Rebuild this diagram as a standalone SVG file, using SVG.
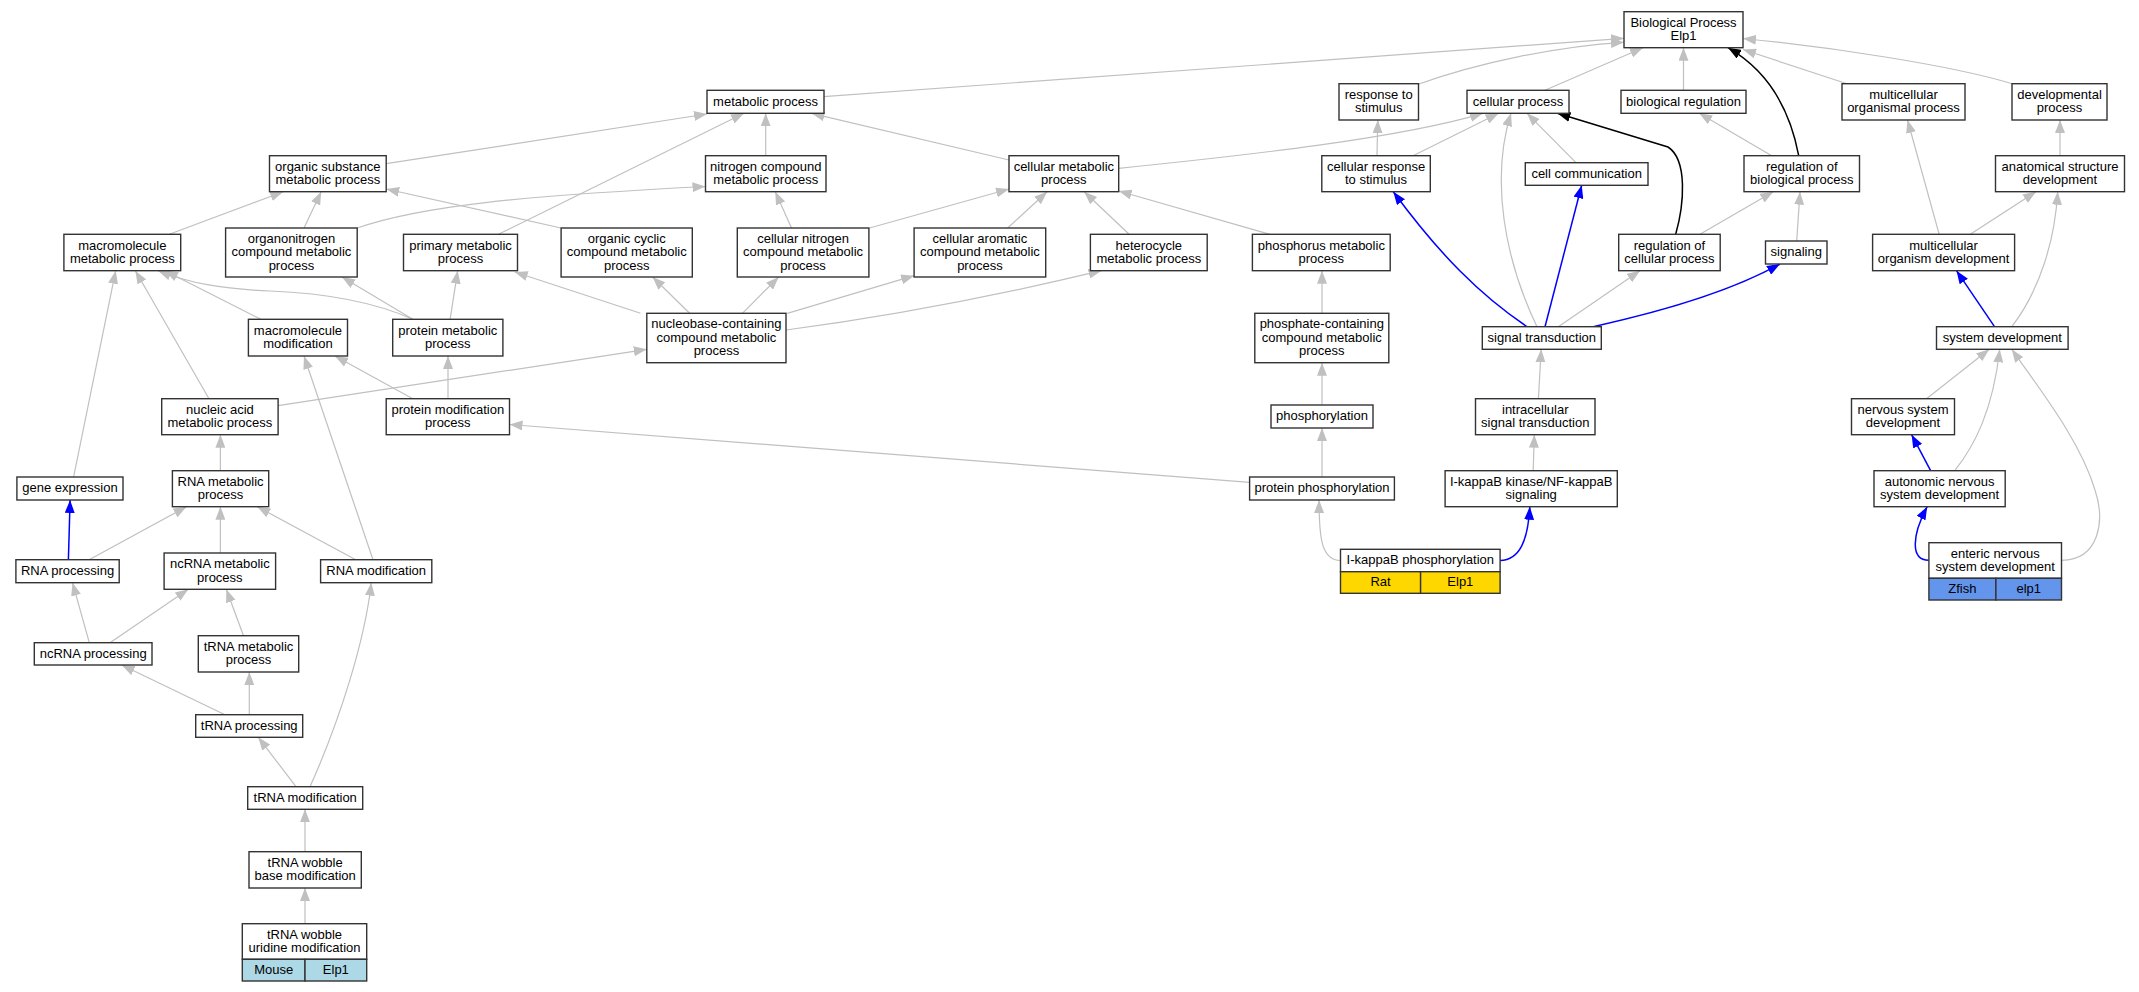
<svg xmlns="http://www.w3.org/2000/svg" width="2139" height="992" viewBox="0 0 2139 992">
<defs>
<style>
.n rect{fill:#fff;stroke:#333;stroke-width:1.4}
.n rect.gold{fill:#ffd700}
.n rect.cb{fill:#6495ed}
.n rect.lb{fill:#add8e6}
.n text{font-family:"Liberation Sans",Arial,sans-serif;font-size:13px;text-anchor:middle;fill:#000}
.e path{fill:none;stroke:#c0c0c0;stroke-width:1.2;marker-end:url(#ag)}
.e path.b{stroke:#0000ff;stroke-width:1.5;marker-end:url(#ab)}
.e path.k{stroke:#000;stroke-width:1.5;marker-end:url(#ak)}
</style>
<marker id="ag" markerUnits="userSpaceOnUse" markerWidth="13" markerHeight="10" viewBox="0 0 13 10" refX="13" refY="5" orient="auto"><path d="M0,0 L13,5 L0,10 z" fill="#c0c0c0"/></marker>
<marker id="ab" markerUnits="userSpaceOnUse" markerWidth="13" markerHeight="10" viewBox="0 0 13 10" refX="13" refY="5" orient="auto"><path d="M0,0 L13,5 L0,10 z" fill="#0000ff"/></marker>
<marker id="ak" markerUnits="userSpaceOnUse" markerWidth="13" markerHeight="10" viewBox="0 0 13 10" refX="13" refY="5" orient="auto"><path d="M0,0 L13,5 L0,10 z" fill="#000"/></marker>
</defs>
<rect width="2139" height="992" fill="#fff"/>
<g id="edges" class="e">
<path d="M823.6,96.7 L1624,38.3"/>
<path d="M1416,85 C1480,62 1560,46 1624,42.3"/>
<path d="M1545,90.3 L1643,47.7"/>
<path d="M1683.5,90.3 L1683.5,47.7"/>
<path class="k" d="M1798.7,155.7 C1792,120 1775,75 1728,47.7"/>
<path d="M1847,83.7 L1743,49.5"/>
<path d="M2012,83.7 C1950,65 1830,47 1743,38.5"/>
<path d="M386.2,163.7 L707,114"/>
<path d="M498.4,234.3 L744,113.3"/>
<path d="M765.7,155.7 L765.7,113.3"/>
<path d="M1009,160 L811.5,113.3"/>
<path d="M169.3,234.3 L283.2,191.7"/>
<path d="M304,228 L321.2,191.7"/>
<path d="M561,228 L386.2,189"/>
<path d="M357.2,228 C420,206 520,196 705.5,186.5"/>
<path d="M791.5,228 L775.3,191.7"/>
<path d="M869.6,228 L1009,189"/>
<path d="M1007.7,228 L1047.1,191.7"/>
<path d="M1129.1,234.3 L1084.2,191.7"/>
<path d="M1270,234.3 L1118.7,191"/>
<path d="M1118.7,168.3 C1250,155 1400,138 1483,113.3"/>
<path d="M1413,155.7 L1498.7,113.3"/>
<path d="M1537,326.7 C1505,260 1490,180 1511,113.3"/>
<path d="M1576,162.7 L1527,113.3"/>
<path class="k" d="M1675.7,234.3 C1684,205 1688,160 1668,147 L1557.4,113.3"/>
<path d="M1377,155.7 L1377.8,120"/>
<path class="b" d="M1527,326.7 C1480,295 1440,255 1393.3,191.7"/>
<path class="b" d="M1545,326.7 L1581.7,185.3"/>
<path d="M1558.3,326.7 L1640,270.7"/>
<path class="b" d="M1593.3,326.7 C1660,312 1730,292 1780,264"/>
<path d="M1700,234.3 L1773.3,191.7"/>
<path d="M1796.7,241 L1800,191.7"/>
<path d="M1771.7,155.7 L1699.2,113.3"/>
<path d="M1939.2,234.3 L1907.5,120"/>
<path d="M2060,155.7 L2060,120"/>
<path d="M1970.3,234.3 L2036,191.7"/>
<path d="M2011.8,326.7 C2040,290 2055,240 2057.7,191.7"/>
<path class="b" d="M1994.5,326.7 L1956.5,270.7"/>
<path d="M1926.5,398.7 L1989.3,349.3"/>
<path d="M1954.8,470.7 C1975,445 1993,410 1999.7,349.3"/>
<path d="M2061.5,560.3 C2100,560 2105,520 2095,490 C2080,440 2040,390 2011.8,349.3"/>
<path class="b" d="M1930.6,470.7 L1911.6,434.7"/>
<path class="b" d="M1928.9,560.3 C1910,560 1912,535 1927.2,506.7"/>
<path d="M1538.4,398.7 L1541.2,349.3"/>
<path d="M1533.2,470.7 L1534.3,434.7"/>
<path class="b" d="M1500.1,560.5 C1520,560 1528,540 1529.8,506.7"/>
<path d="M1340.5,560.5 C1322,560 1319,540 1319.1,500"/>
<path d="M1322,477 L1322,428"/>
<path d="M1322,405 L1322,362.7"/>
<path d="M1322,313.3 L1322,270.7"/>
<path d="M1249.6,482.3 L509.5,424.5"/>
<path d="M278.1,405.7 L646.8,349.3"/>
<path d="M689.6,313.3 L652.6,277"/>
<path d="M742.4,313.3 L778.7,277"/>
<path d="M787.3,313.3 L914.1,275.7"/>
<path d="M786,330 C900,315 1000,295 1101.5,270.7"/>
<path d="M640.5,313.3 L514.7,272"/>
<path d="M450.1,319.3 L457.7,270.7"/>
<path d="M412.8,319.3 L342,277"/>
<path d="M412.8,319.3 C370,300 320,293 270,291 C220,289 190,283 158,270.7"/>
<path d="M260.8,319.3 L165,270.7"/>
<path d="M209,398.7 L135.4,270.7"/>
<path d="M73.6,477 L115.7,270.7"/>
<path d="M412.8,398.7 L335,356"/>
<path d="M373,559.7 L304,356"/>
<path d="M448,398.7 L448,356"/>
<path d="M220.4,470.7 L220.4,434.7"/>
<path class="b" d="M68.4,559.7 L70.1,500"/>
<path d="M89.1,559.7 L186.5,506.7"/>
<path d="M220.4,553 L220.4,506.7"/>
<path d="M355.8,559.7 L257.3,506.7"/>
<path d="M89.3,642.7 L72.5,582.7"/>
<path d="M110,642.7 L188.3,589.3"/>
<path d="M243.5,635.7 L226.3,589.3"/>
<path d="M310,786.7 C340,720 365,640 371.3,582.7"/>
<path d="M225,714.7 L121.7,665"/>
<path d="M249.3,714.7 L249.3,672"/>
<path d="M296,786.7 L258.3,737.3"/>
<path d="M305,851.7 L305,809.3"/>
<path d="M305,923.7 L305,888"/>
</g>
<g id="n_bp" class="n"><rect x="1624" y="11.7" width="119" height="36"/><text x="1683.5" y="26.7">Biological Process</text><text x="1683.5" y="40.2">Elp1</text></g>
<g id="n_metabolic" class="n"><rect x="707" y="90.3" width="117" height="23"/><text x="765.5" y="105.6">metabolic process</text></g>
<g id="n_response" class="n"><rect x="1339" y="83.7" width="79.5" height="36.3"/><text x="1378.75" y="98.9">response to</text><text x="1378.75" y="112.4">stimulus</text></g>
<g id="n_cellproc" class="n"><rect x="1467" y="90.3" width="102" height="23"/><text x="1518" y="105.6">cellular process</text></g>
<g id="n_bioreg" class="n"><rect x="1621" y="90.3" width="125" height="23"/><text x="1683.5" y="105.6">biological regulation</text></g>
<g id="n_mop" class="n"><rect x="1842" y="83.7" width="123" height="36.3"/><text x="1903.5" y="98.9">multicellular</text><text x="1903.5" y="112.4">organismal process</text></g>
<g id="n_dev" class="n"><rect x="2012" y="83.7" width="95" height="36.3"/><text x="2059.5" y="98.9">developmental</text><text x="2059.5" y="112.4">process</text></g>
<g id="n_orgsub" class="n"><rect x="269.5" y="155.7" width="116.7" height="36"/><text x="327.85" y="170.7">organic substance</text><text x="327.85" y="184.2">metabolic process</text></g>
<g id="n_nitrogen" class="n"><rect x="705.5" y="155.7" width="120.5" height="36"/><text x="765.75" y="170.7">nitrogen compound</text><text x="765.75" y="184.2">metabolic process</text></g>
<g id="n_cellmet" class="n"><rect x="1009" y="155.7" width="109.7" height="36"/><text x="1063.85" y="170.7">cellular metabolic</text><text x="1063.85" y="184.2">process</text></g>
<g id="n_cellresp" class="n"><rect x="1321.8" y="155.7" width="108.5" height="36"/><text x="1376.05" y="170.7">cellular response</text><text x="1376.05" y="184.2">to stimulus</text></g>
<g id="n_cellcomm" class="n"><rect x="1525.3" y="162.7" width="122.7" height="22.6"/><text x="1586.65" y="177.8">cell communication</text></g>
<g id="n_regbio" class="n"><rect x="1744" y="155.7" width="115.5" height="36"/><text x="1801.75" y="170.7">regulation of</text><text x="1801.75" y="184.2">biological process</text></g>
<g id="n_asd" class="n"><rect x="1995.5" y="155.7" width="129" height="36"/><text x="2060" y="170.7">anatomical structure</text><text x="2060" y="184.2">development</text></g>
<g id="n_macro" class="n"><rect x="63.9" y="234.3" width="116.8" height="36.4"/><text x="122.3" y="249.5">macromolecule</text><text x="122.3" y="263">metabolic process</text></g>
<g id="n_organonitrogen" class="n"><rect x="225.6" y="228" width="131.6" height="49"/><text x="291.4" y="242.8">organonitrogen</text><text x="291.4" y="256.3">compound metabolic</text><text x="291.4" y="269.8">process</text></g>
<g id="n_primary" class="n"><rect x="403.5" y="234.3" width="114" height="36.4"/><text x="460.5" y="249.5">primary metabolic</text><text x="460.5" y="263">process</text></g>
<g id="n_orgcyc" class="n"><rect x="561.1" y="228" width="131.2" height="49"/><text x="626.7" y="242.8">organic cyclic</text><text x="626.7" y="256.3">compound metabolic</text><text x="626.7" y="269.8">process</text></g>
<g id="n_cellnit" class="n"><rect x="737.3" y="228" width="131.6" height="49"/><text x="803.1" y="242.8">cellular nitrogen</text><text x="803.1" y="256.3">compound metabolic</text><text x="803.1" y="269.8">process</text></g>
<g id="n_cellaro" class="n"><rect x="914.1" y="228" width="131.6" height="49"/><text x="979.9" y="242.8">cellular aromatic</text><text x="979.9" y="256.3">compound metabolic</text><text x="979.9" y="269.8">process</text></g>
<g id="n_hetero" class="n"><rect x="1090.4" y="234.3" width="116.8" height="36.4"/><text x="1148.8" y="249.5">heterocycle</text><text x="1148.8" y="263">metabolic process</text></g>
<g id="n_phosphorus" class="n"><rect x="1252.4" y="234.3" width="137.8" height="36.4"/><text x="1321.3" y="249.5">phosphorus metabolic</text><text x="1321.3" y="263">process</text></g>
<g id="n_regcell" class="n"><rect x="1618.7" y="234.3" width="101.5" height="36.4"/><text x="1669.45" y="249.5">regulation of</text><text x="1669.45" y="263">cellular process</text></g>
<g id="n_signaling" class="n"><rect x="1765.5" y="241" width="61.5" height="23"/><text x="1796.25" y="256.3">signaling</text></g>
<g id="n_mod" class="n"><rect x="1872.6" y="234.3" width="142" height="36.4"/><text x="1943.6" y="249.5">multicellular</text><text x="1943.6" y="263">organism development</text></g>
<g id="n_macromod" class="n"><rect x="248.4" y="319.3" width="99.1" height="36.7"/><text x="297.95" y="334.65">macromolecule</text><text x="297.95" y="348.2">modification</text></g>
<g id="n_protmet" class="n"><rect x="392.7" y="319.3" width="110.2" height="36.7"/><text x="447.8" y="334.65">protein metabolic</text><text x="447.8" y="348.2">process</text></g>
<g id="n_nucleobase" class="n"><rect x="646.8" y="313.3" width="139.2" height="49.4"/><text x="716.4" y="328.3">nucleobase-containing</text><text x="716.4" y="341.8">compound metabolic</text><text x="716.4" y="355.3">process</text></g>
<g id="n_phosphate" class="n"><rect x="1254.8" y="313.3" width="134" height="49.4"/><text x="1321.8" y="328.3">phosphate-containing</text><text x="1321.8" y="341.8">compound metabolic</text><text x="1321.8" y="355.3">process</text></g>
<g id="n_signal" class="n"><rect x="1482.3" y="326.7" width="119" height="22.6"/><text x="1541.8" y="341.8">signal transduction</text></g>
<g id="n_sysdev" class="n"><rect x="1936.5" y="326.7" width="131.6" height="22.6"/><text x="2002.3" y="341.8">system development</text></g>
<g id="n_nucleic" class="n"><rect x="161.7" y="398.7" width="116.4" height="36"/><text x="219.9" y="413.7">nucleic acid</text><text x="219.9" y="427.2">metabolic process</text></g>
<g id="n_protmod" class="n"><rect x="386.2" y="398.7" width="123.3" height="36"/><text x="447.85" y="413.7">protein modification</text><text x="447.85" y="427.2">process</text></g>
<g id="n_phosphorylation" class="n"><rect x="1271" y="405" width="102" height="23"/><text x="1322" y="420.3">phosphorylation</text></g>
<g id="n_intracellular" class="n"><rect x="1475.5" y="398.7" width="119.5" height="36"/><text x="1535.25" y="413.7">intracellular</text><text x="1535.25" y="427.2">signal transduction</text></g>
<g id="n_nsd" class="n"><rect x="1851.5" y="398.7" width="103" height="36"/><text x="1903" y="413.7">nervous system</text><text x="1903" y="427.2">development</text></g>
<g id="n_gene" class="n"><rect x="16.9" y="477" width="106.1" height="23"/><text x="69.95" y="492.3">gene expression</text></g>
<g id="n_rnamet" class="n"><rect x="172.4" y="470.7" width="96.3" height="36"/><text x="220.55" y="485.7">RNA metabolic</text><text x="220.55" y="499.2">process</text></g>
<g id="n_protphos" class="n"><rect x="1249.6" y="477" width="144.8" height="23"/><text x="1322" y="492.3">protein phosphorylation</text></g>
<g id="n_ikk" class="n"><rect x="1445.1" y="470.7" width="172.2" height="36"/><text x="1531.2" y="485.7">I-kappaB kinase/NF-kappaB</text><text x="1531.2" y="499.2">signaling</text></g>
<g id="n_autonomic" class="n"><rect x="1874" y="470.7" width="131.2" height="36"/><text x="1939.6" y="485.7">autonomic nervous</text><text x="1939.6" y="499.2">system development</text></g>
<g id="n_rnaproc" class="n"><rect x="15.9" y="559.7" width="103.3" height="23"/><text x="67.55" y="575">RNA processing</text></g>
<g id="n_ncrnamet" class="n"><rect x="164.1" y="553" width="111.5" height="36.3"/><text x="219.85" y="568.2">ncRNA metabolic</text><text x="219.85" y="581.7">process</text></g>
<g id="n_rnamod" class="n"><rect x="320.6" y="559.7" width="111.2" height="23"/><text x="376.2" y="575">RNA modification</text></g>
<g id="n_ikbphos" class="n"><rect x="1340.5" y="549.3" width="159.6" height="22.4"/><rect class="gold" x="1340.5" y="571.7" width="80.1" height="21.6"/><rect class="gold" x="1420.6" y="571.7" width="79.5" height="21.6"/><text x="1420.3" y="564.3">I-kappaB phosphorylation</text><text x="1380.55" y="586.3">Rat</text><text x="1460.35" y="586.3">Elp1</text></g>
<g id="n_enteric" class="n"><rect x="1928.9" y="542.7" width="132.6" height="35.6"/><rect class="cb" x="1928.9" y="578.3" width="67" height="21.7"/><rect class="cb" x="1995.9" y="578.3" width="65.6" height="21.7"/><text x="1995.2" y="557.5">enteric nervous</text><text x="1995.2" y="571">system development</text><text x="1962.4" y="593">Zfish</text><text x="2028.7" y="593">elp1</text></g>
<g id="n_ncrnaproc" class="n"><rect x="34.3" y="642.7" width="117.7" height="22.3"/><text x="93.15" y="657.6">ncRNA processing</text></g>
<g id="n_trnamet" class="n"><rect x="198.3" y="635.7" width="100.4" height="36.3"/><text x="248.5" y="650.9">tRNA metabolic</text><text x="248.5" y="664.4">process</text></g>
<g id="n_trnaproc" class="n"><rect x="195.7" y="714.7" width="107" height="22.6"/><text x="249.2" y="729.8">tRNA processing</text></g>
<g id="n_trnamod" class="n"><rect x="247.7" y="786.7" width="115" height="22.6"/><text x="305.2" y="801.8">tRNA modification</text></g>
<g id="n_wobblebase" class="n"><rect x="249" y="851.7" width="112.3" height="36.3"/><text x="305.15" y="866.9">tRNA wobble</text><text x="305.15" y="880.4">base modification</text></g>
<g id="n_uridine" class="n"><rect x="242.3" y="923.7" width="124.4" height="35.6"/><rect class="lb" x="242.3" y="959.3" width="62.7" height="21.7"/><rect class="lb" x="305" y="959.3" width="61.7" height="21.7"/><text x="304.5" y="938.5">tRNA wobble</text><text x="304.5" y="952">uridine modification</text><text x="273.65" y="974">Mouse</text><text x="335.85" y="974">Elp1</text></g>
</svg>
